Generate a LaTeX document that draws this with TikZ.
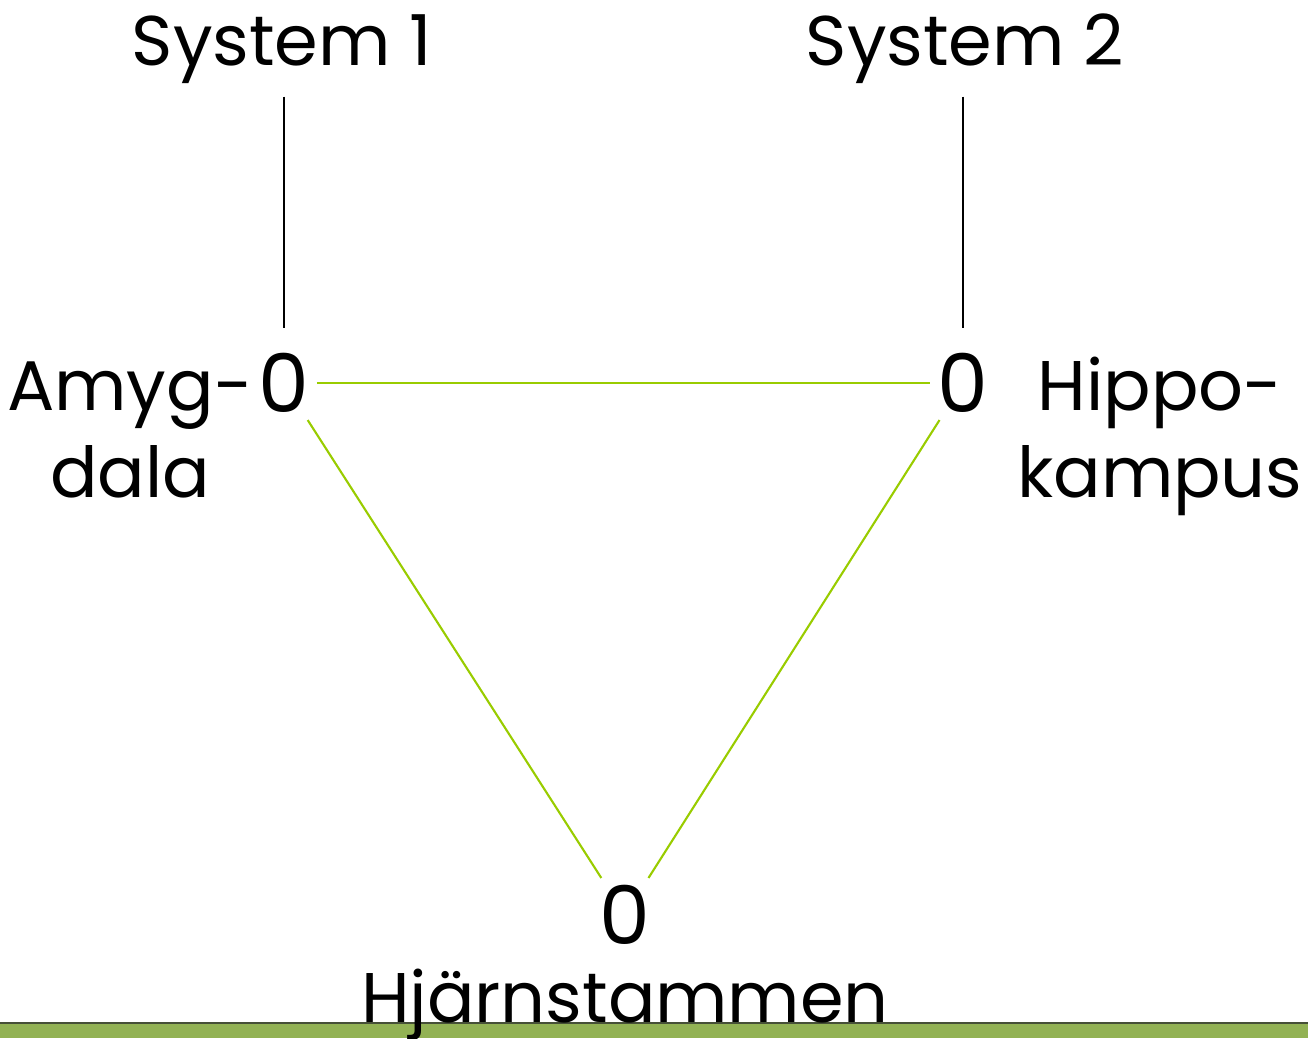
\documentclass[tikz,border=0pt]{standalone}
\usepackage{fontspec}
\setmainfont{Poppins}
\definecolor{linegreen}{RGB}{153,204,0}
\definecolor{bargreen}{RGB}{146,178,84}
\definecolor{bardark}{RGB}{70,80,55}
\tikzset{
  lbl/.style={font=\fontsize{40}{49.5}\selectfont, inner sep=0pt, align=center},
  zero/.style={font=\fontsize{46}{52}\selectfont, inner sep=4pt},
  link/.style={draw=linegreen, line width=1.2pt},
  stem/.style={draw=black, line width=1.1pt}
}
\begin{document}
\begin{tikzpicture}[x=0.02cm, y=-0.02cm]
    \useasboundingbox (0,0) rectangle (1308,1038);
    % bottom bar
    \fill[bargreen] (0,1023) rectangle (1308,1038);
    \draw[bardark, line width=0.8pt] (0,1023) -- (1308,1023);

    \node[zero] (amy) at (284,383) {0};
    \node[zero] (hip) at (963,383) {0};
    \node[zero] (hjs) at (625,915) {0};

    \node[lbl, anchor=base] (sys1) at (282,65) {System 1};
    \node[lbl, anchor=base] (sys2) at (965,65) {System 2};
    \node[lbl, anchor=base] (amytxt) at (130,497) {Amyg-\\dala};
    \node[lbl, anchor=base] (hiptxt) at (1160,497) {Hippo-\\kampus};
    \node[lbl, anchor=base] (hjstxt) at (625,1022) {Hjärnstammen};

    \draw[stem, shorten <=7.5pt, shorten >=10pt] (sys1.south -| amy) -- (amy);
    \draw[stem, shorten <=7.5pt, shorten >=10pt] (sys2.south -| hip) -- (hip);

    \draw[link] (amy) -- (hip);
    \draw[link] (amy) -- (hjs);
    \draw[link] (hip) -- (hjs);
\end{tikzpicture}
\end{document}
